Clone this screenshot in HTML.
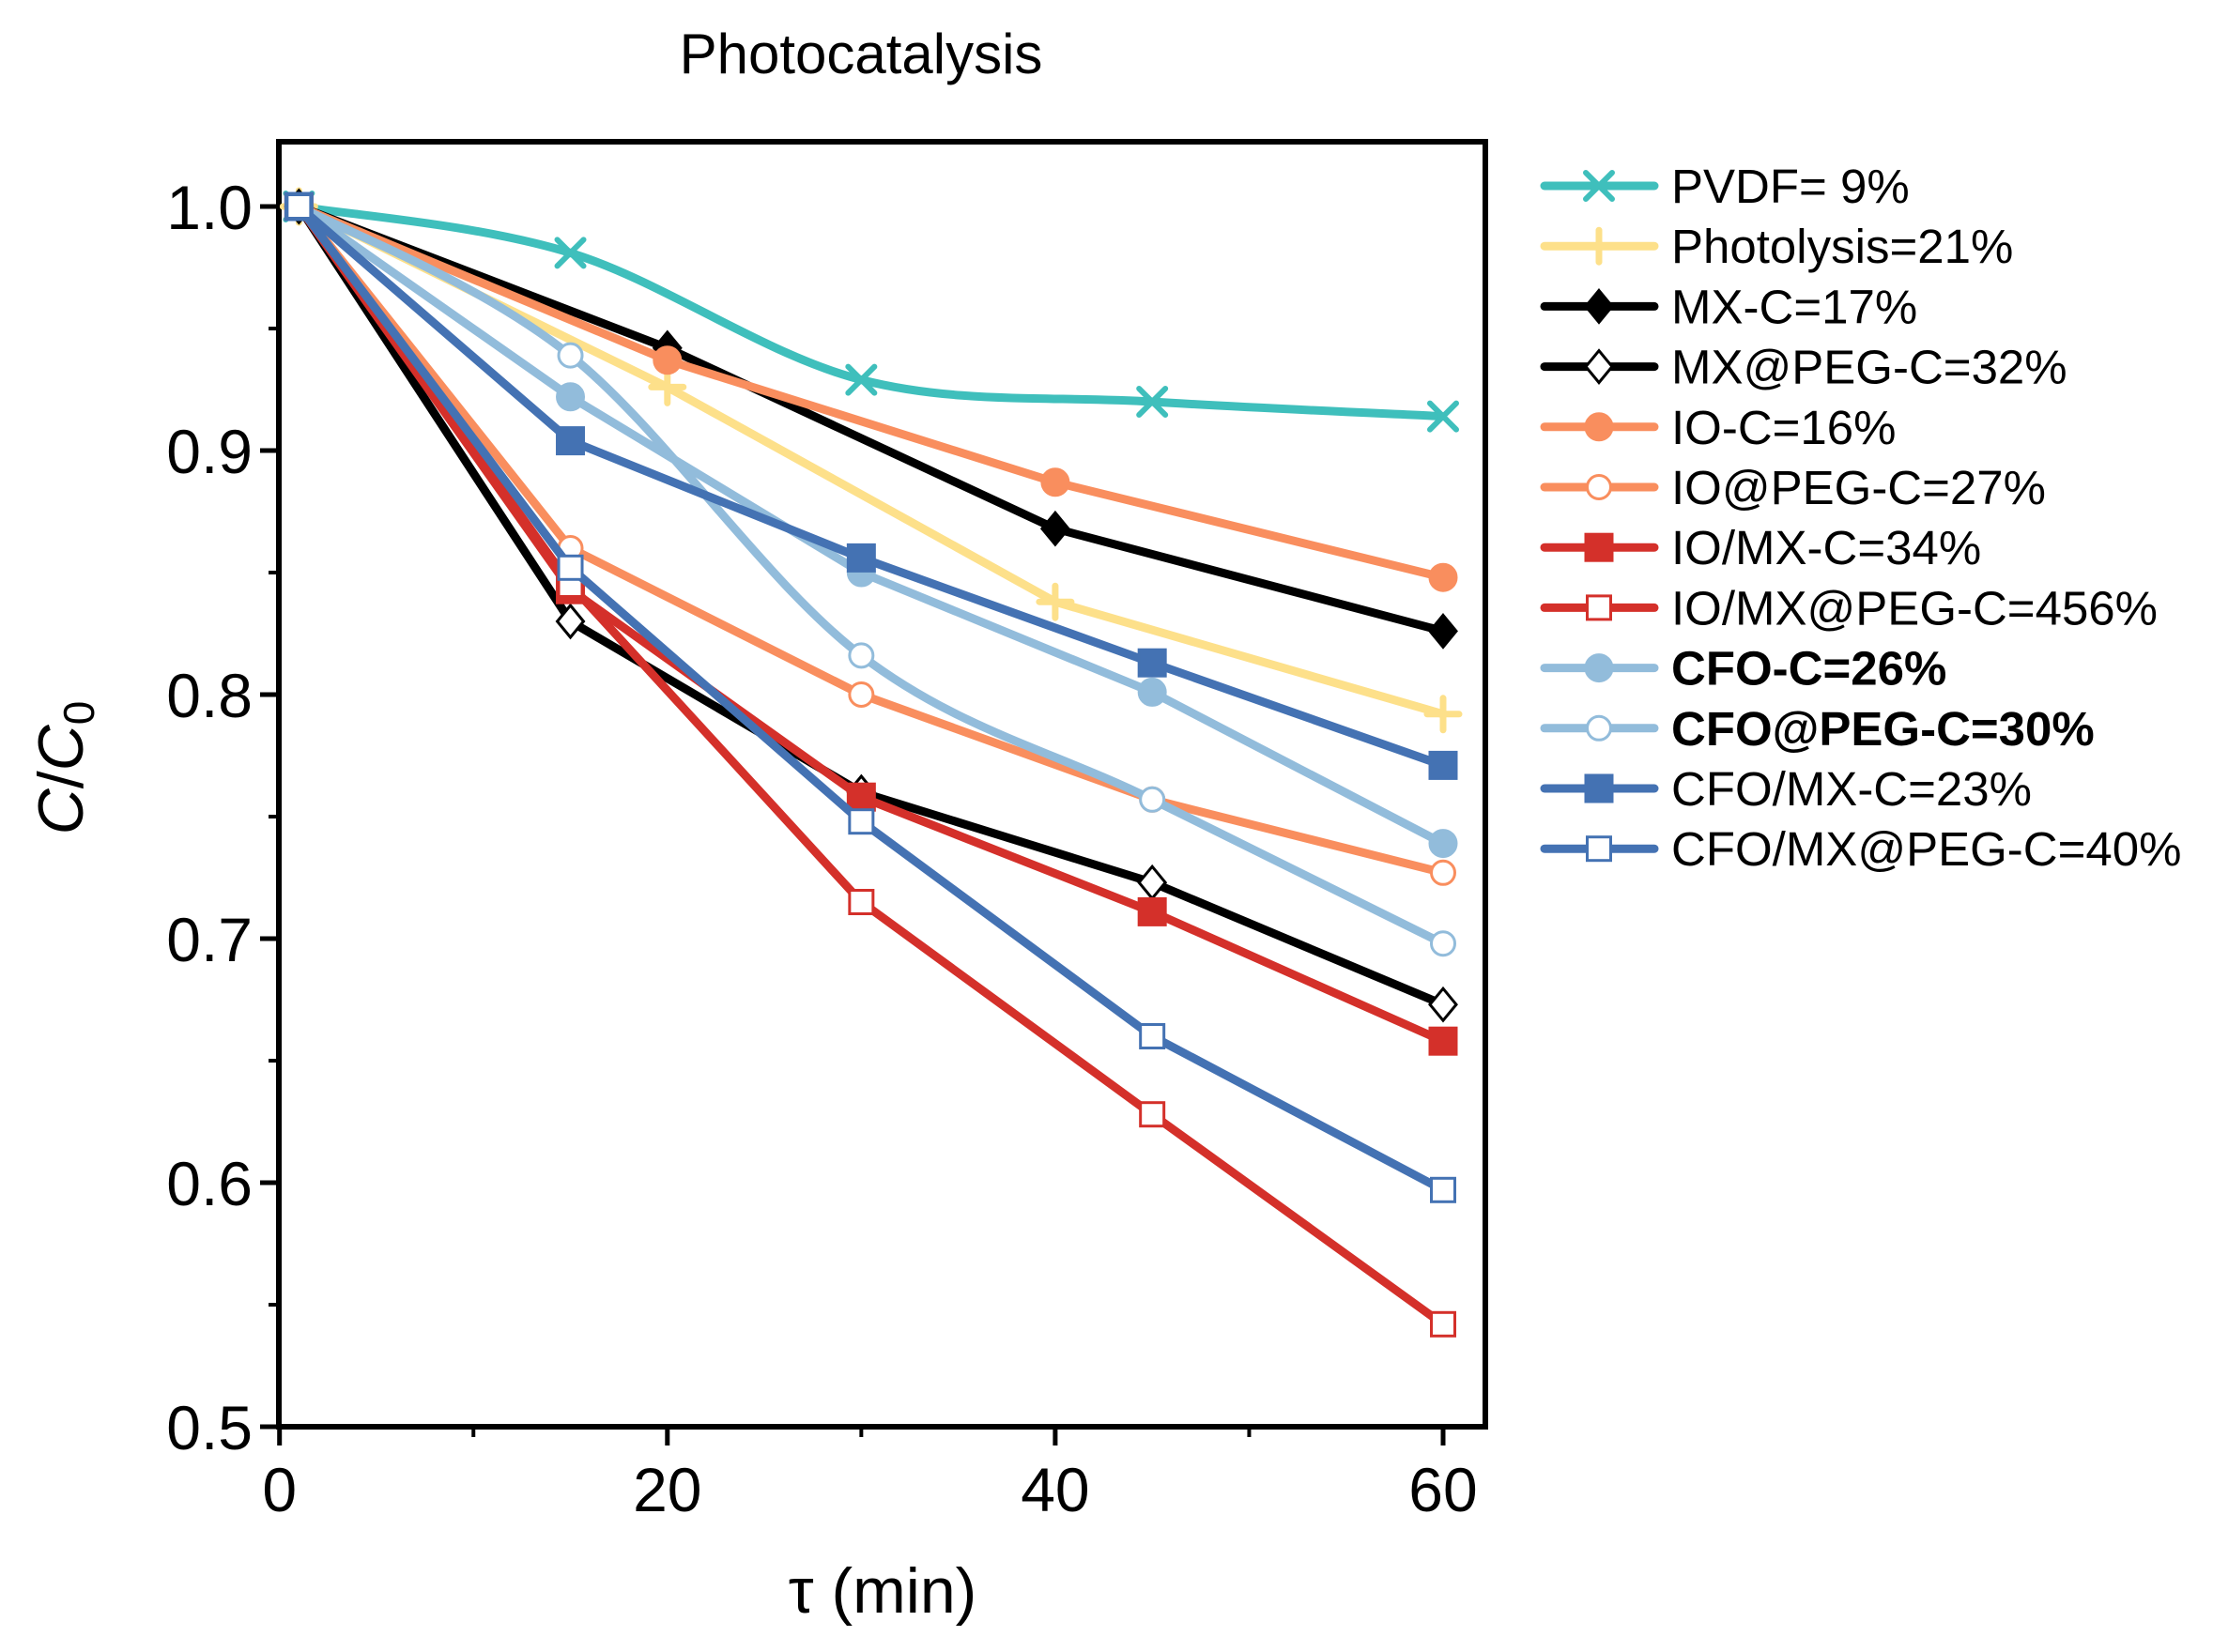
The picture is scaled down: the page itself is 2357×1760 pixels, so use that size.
<!DOCTYPE html>
<html><head><meta charset="utf-8"><style>
html,body{margin:0;padding:0;background:#fff;}
svg{display:block;font-family:"Liberation Sans",Arial,sans-serif;}
</style></head><body>
<svg id="chart" width="2357" height="1760" viewBox="0 0 2357 1760">
<text x="917" y="78" font-size="60" text-anchor="middle">Photocatalysis</text>
<g id="axes"></g>
<g id="series"></g>
<g id="legend"></g>
<text x="940" y="1718" font-size="68" text-anchor="middle">τ (min)</text>
<text transform="translate(88,818) rotate(-90)" font-size="68" text-anchor="middle"><tspan font-style="italic">C</tspan>/<tspan font-style="italic">C</tspan><tspan font-size="46" dy="12">0</tspan></text>
</svg>
<script>
const xTicks=[0,20,40,60];
const xMinor=[10,30,50];
const yTicks=[0.5,0.6,0.7,0.8,0.9,1.0];
const yTickLabels=["0.5","0.6","0.7","0.8","0.9","1.0"];
const yMinor=[0.55,0.65,0.75,0.85,0.95];
const seriesNames=["PVDF= 9%","Photolysis=21%","MX-C=17%","MX@PEG-C=32%","IO-C=16%","IO@PEG-C=27%","IO/MX-C=34%","IO/MX@PEG-C=456%","CFO-C=26%","CFO@PEG-C=30%","CFO/MX-C=23%","CFO/MX@PEG-C=40%"];
const xA=[1,15,30,45,60];
const xB=[1,20,40,60];
const yPVDF=[1.0,0.981,0.929,0.920,0.914];
const yPhotolysis=[1.0,0.926,0.838,0.792];
const yMXC=[1.0,0.942,0.868,0.826];
const yMXPEG=[1.0,0.830,0.760,0.723,0.673];
const yIOC=[1.0,0.937,0.887,0.848];
const yIOPEG=[1.0,0.860,0.800,0.757,0.727];
const yIOMX=[1.0,0.843,0.758,0.711,0.658];
const yIOMXPEG=[1.0,0.845,0.715,0.628,0.542];
const yCFOC=[1.0,0.922,0.850,0.801,0.739];
const yCFOPEG=[1.0,0.939,0.816,0.757,0.698];
const yCFOMX=[1.0,0.904,0.856,0.813,0.771];
const yCFOMXPEG=[1.0,0.852,0.748,0.660,0.597];

const NS="http://www.w3.org/2000/svg";
const X0=297,X1=1582,Y0=151,Y1=1520;
const xs=v=>297.7+(v/60)*(1537-297.7);
const ys=v=>1520-(v-0.5)/0.5*(1520-220);
function mk(tag,attrs,parent){const e=document.createElementNS(NS,tag);for(const k in attrs)e.setAttribute(k,attrs[k]);parent.appendChild(e);return e;}
const axes=document.getElementById('axes');
xTicks.forEach(t=>{
 const l=mk('line',{x1:xs(t),x2:xs(t),y1:Y1,y2:Y1+20,stroke:'#000','stroke-width':5},axes);
 
 
 const tx=mk('text',{x:xs(t),y:Y1+90,'font-size':66,'text-anchor':'middle'},axes);tx.textContent=t;
 
 
});
xMinor.forEach(t=>{
 const l=mk('line',{x1:xs(t),x2:xs(t),y1:Y1,y2:Y1+11,stroke:'#000','stroke-width':4},axes);
 
 
});
yTicks.forEach((t,i)=>{
 const l=mk('line',{x1:X0-20,x2:X0,y1:ys(t),y2:ys(t),stroke:'#000','stroke-width':5},axes);
 
 
 const tx=mk('text',{x:X0-28,y:ys(t)+24,'font-size':66,'text-anchor':'end'},axes);tx.textContent=yTickLabels[i];
 
 
});
yMinor.forEach(t=>{
 const l=mk('line',{x1:X0-11,x2:X0,y1:ys(t),y2:ys(t),stroke:'#000','stroke-width':4},axes);
 
 
});
const frame=mk('rect',{x:X0,y:Y0,width:X1-X0,height:Y1-Y0,fill:'none',stroke:'#000','stroke-width':6},axes);



const TEAL='#3fbfbc',YEL='#fde08a',BLK='#000',ORG='#f98e5e',RED='#d4302a',LB='#92bcdb',BLU='#4472b3';
const defs=[
 [xA,yPVDF,TEAL,'x',true],[xB,yPhotolysis,YEL,'plus',false],[xB,yMXC,BLK,'diamond',false],[xA,yMXPEG,BLK,'diamond-open',false],
 [xB,yIOC,ORG,'circle',false],[xA,yIOPEG,ORG,'circle-open',false],[xA,yIOMX,RED,'square',false],[xA,yIOMXPEG,RED,'square-open',false],
 [xA,yCFOC,LB,'circle',false],[xA,yCFOPEG,LB,'circle-open',true],[xA,yCFOMX,BLU,'square',false],[xA,yCFOMXPEG,BLU,'square-open',false]];
function pathD(px,py,smooth){
 if(!smooth)return px.map((x,i)=>(i?'L':'M')+x+','+py[i]).join(' ');
 let d='M'+px[0]+','+py[0];
 for(let i=0;i<px.length-1;i++){
  const p0=[px[Math.max(i-1,0)],py[Math.max(i-1,0)]],p1=[px[i],py[i]],p2=[px[i+1],py[i+1]],p3=[px[Math.min(i+2,px.length-1)],py[Math.min(i+2,px.length-1)]];
  const c1=[p1[0]+(p2[0]-p0[0])/6,p1[1]+(p2[1]-p0[1])/6],c2=[p2[0]-(p3[0]-p1[0])/6,p2[1]-(p3[1]-p1[1])/6];
  d+=` C${c1[0]},${c1[1]} ${c2[0]},${c2[1]} ${p2[0]},${p2[1]}`;
 }
 return d;
}
function marker(g,type,cx,cy,col){
 const r=14;let e;
 if(type==='x'){e=mk('path',{d:`M${cx-r},${cy-r}L${cx+r},${cy+r}M${cx-r},${cy+r}L${cx+r},${cy-r}`,stroke:col,'stroke-width':6,'stroke-linecap':'round'},g);}
 else if(type==='plus'){e=mk('path',{d:`M${cx-r-3},${cy}L${cx+r+3},${cy}M${cx},${cy-r-3}L${cx},${cy+r+3}`,stroke:col,'stroke-width':7,'stroke-linecap':'round'},g);}
 else if(type.startsWith('diamond')){const o=type.endsWith('open');e=mk('path',{d:`M${cx},${cy-r-3}L${cx+r},${cy}L${cx},${cy+r+3}L${cx-r},${cy}Z`,fill:o?'#fff':col,stroke:col,'stroke-width':3},g);}
 else if(type.startsWith('circle')){const o=type.endsWith('open');e=mk('circle',{cx,cy,r:o?r-1.5:r,fill:o?'#fff':col,stroke:col,'stroke-width':3},g);}
 else {const o=type.endsWith('open');const s=o?r-1.5:r;e=mk('rect',{x:cx-s,y:cy-s,width:2*s,height:2*s,fill:o?'#fff':col,stroke:col,'stroke-width':3},g);}
 return e;
}
const sg=document.getElementById('series');
defs.forEach((d,k)=>{
 const [xv,yv,col,mt,sm]=d;
 const g=mk('g',{},sg);
 
 
 const px=xv.map(xs),py=yv.map(ys);
 const p=mk('path',{d:pathD(px,py,sm),fill:'none',stroke:col,'stroke-width':9,'stroke-linejoin':'round'},g);
 
 
 px.forEach((x,i)=>{const m=marker(g,mt,x,py[i],col);
  
  });
});
const lg=document.getElementById('legend');
defs.forEach((d,k)=>{
 const y=198+k*64.2;const col=d[2];
 const g=mk('g',{},lg);
 
 
 mk('line',{x1:1645,x2:1762,y1:y,y2:y,stroke:col,'stroke-width':9,'stroke-linecap':'round'},g);
 marker(g,d[3],1703,y,col);
 const t=mk('text',{x:1780,y:y+18,'font-size':51,'font-weight':(k===8||k===9)?'bold':'normal'},g);
 t.textContent=seriesNames[k];
});
</script>
</body></html>
